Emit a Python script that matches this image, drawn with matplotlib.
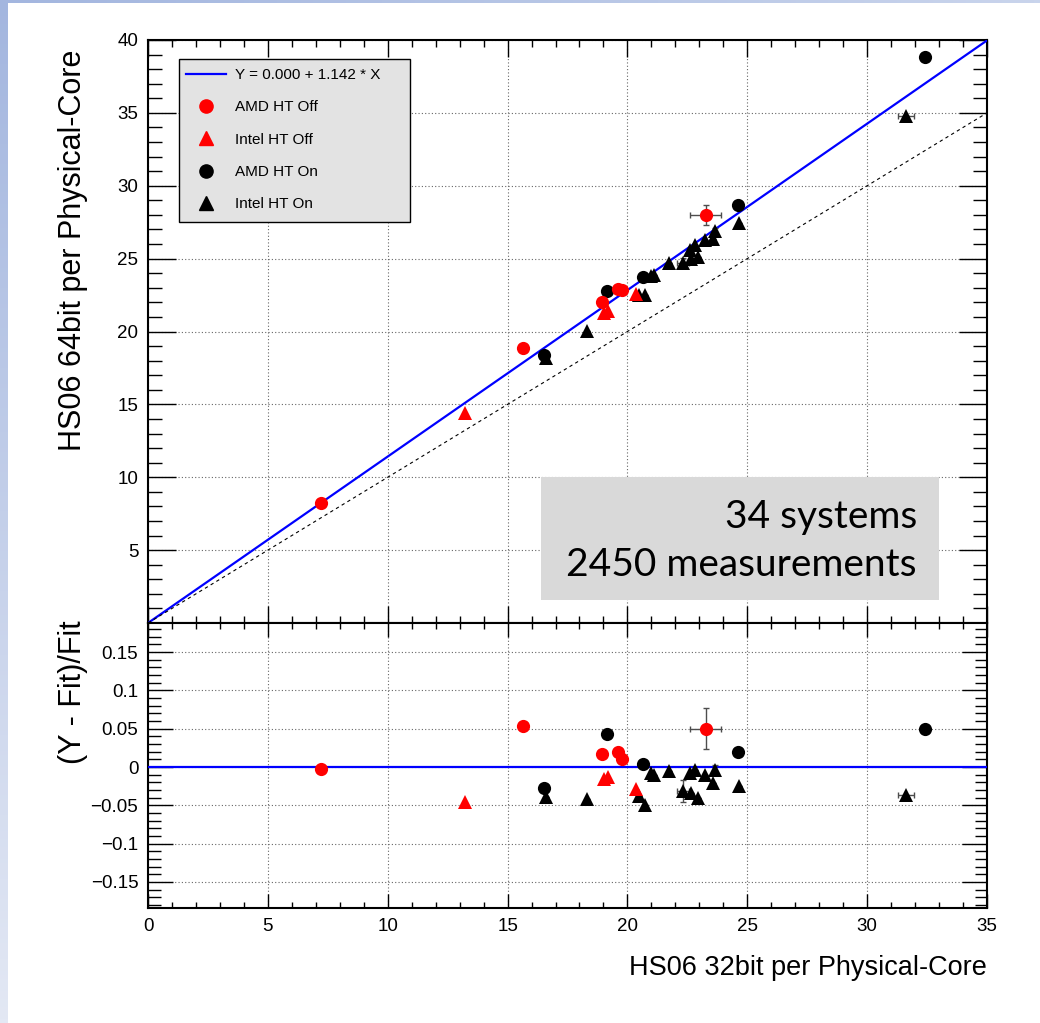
import numpy as np
import matplotlib
matplotlib.use("Agg")
import matplotlib.pyplot as plt
from matplotlib.patches import Rectangle
from matplotlib.lines import Line2D
from matplotlib.ticker import MultipleLocator

plt.rcParams['font.family'] = ['Liberation Sans', 'DejaVu Sans']

# fit: Y = 0.000 + 1.142 * X
fit_a = 0.000
fit_b = 1.142

# AMD HT Off (red circles)
amd_off_x = [7.22, 15.66, 18.93, 19.62, 19.79, 23.26]
amd_off_y = [8.25, 18.89, 22.00, 22.90, 22.85, 27.99]
amd_off_r = [-0.003, 0.0535, 0.0166, 0.020, 0.0104, 0.050]
amd_off_xerr = [0, 0, 0, 0, 0, 0.66]
amd_off_yerr = [0, 0, 0, 0, 0, 0.69]
amd_off_rerr = [0, 0, 0, 0, 0, 0.027]

# Intel HT Off (red triangles)
intel_off_x = [13.22, 19.04, 19.21, 20.34]
intel_off_y = [14.39, 21.30, 21.43, 22.58]
intel_off_r = [-0.045, -0.0157, -0.0135, -0.029]

# AMD HT On (black circles)
amd_on_x = [16.53, 19.13, 20.66, 24.63, 32.42]
amd_on_y = [18.39, 22.80, 23.72, 28.68, 38.82]
amd_on_r = [-0.027, 0.043, 0.004, 0.019, 0.049]

# Intel HT On (black triangles)
intel_on_x = [16.59, 18.30, 20.50, 20.73, 21.00, 21.12, 21.74, 22.30, 22.61,
              22.64, 22.82, 22.96, 23.24, 23.58, 23.65, 24.66, 31.61]
intel_on_y = [18.21, 20.02, 22.52, 22.49, 23.79, 23.87, 24.70, 24.68, 25.61,
              24.98, 25.96, 25.14, 26.26, 26.38, 26.90, 27.46, 34.76]
intel_on_r = [-0.039, -0.042, -0.038, -0.050, -0.008, -0.0105, -0.005, -0.031, -0.008,
              -0.034, -0.004, -0.041, -0.0105, -0.0205, -0.004, -0.025, -0.037]
intel_on_xerr = [0, 0, 0, 0, 0, 0, 0, 0.25, 0, 0, 0, 0, 0, 0, 0, 0, 0.33]
intel_on_yerr = [0, 0, 0, 0, 0, 0, 0, 0.35, 0, 0, 0, 0, 0, 0, 0.19, 0, 0]
intel_on_rerr = [0, 0, 0, 0, 0, 0, 0, 0.014, 0, 0, 0, 0, 0, 0, 0.007, 0, 0]

W, H = 1040, 1023
fig = plt.figure(figsize=(W / 100, H / 100), dpi=100)

# slide background strips
grad = np.linspace(0, 1, 256).reshape(-1, 1)
bg = fig.add_axes([0, 0, 8 / W, 1])
bg.imshow(grad, aspect='auto', cmap=matplotlib.colors.LinearSegmentedColormap.from_list(
    'bgl', ['#a3b6df', '#e3e8f4']), extent=[0, 1, 0, 1])
bg.axis('off')
bgt = fig.add_axes([0, 1 - 3 / H, 1, 3 / H])
bgt.imshow(grad.T, aspect='auto', cmap=matplotlib.colors.LinearSegmentedColormap.from_list(
    'bgt', ['#a3b6df', '#c9d4ec']), extent=[0, 1, 0, 1])
bgt.axis('off')

ax1 = fig.add_axes([148 / W, 1 - 623 / H, 839 / W, 583 / H])
ax2 = fig.add_axes([148 / W, 1 - 908 / H, 839 / W, 285 / H])

ms = 9.5
mk = dict(linestyle='none', markersize=ms, markeredgewidth=0, zorder=5)
emk = dict(ecolor='0.3', elinewidth=1, capsize=2.5, capthick=1, zorder=4)

# top panel
xs = np.array([0, 35])
ax1.plot(xs, fit_a + fit_b * xs, color='#0000ff', lw=1.6, zorder=3)
ax1.plot(xs, xs, color='black', lw=0.8, ls=(0, (3, 3)), zorder=3)
ax1.errorbar(amd_off_x, amd_off_y, xerr=amd_off_xerr, yerr=amd_off_yerr, fmt='none', **emk)
ax1.errorbar(intel_on_x, intel_on_y, xerr=intel_on_xerr, yerr=intel_on_yerr, fmt='none', **emk)
ax1.plot(intel_on_x, intel_on_y, marker='^', color='black', **mk)
ax1.plot(amd_on_x, amd_on_y, marker='o', color='black', **mk)
ax1.plot(intel_off_x, intel_off_y, marker='^', color='red', **mk)
ax1.plot(amd_off_x, amd_off_y, marker='o', color='red', **mk)
ax1.set_xlim(0, 35)
ax1.set_ylim(0, 40)
ax1.set_yticks([5, 10, 15, 20, 25, 30, 35, 40])
ax1.yaxis.set_minor_locator(MultipleLocator(1))
ax1.xaxis.set_major_locator(MultipleLocator(5))
ax1.xaxis.set_minor_locator(MultipleLocator(1))
ax1.tick_params(axis='x', labelbottom=False)
ax1.tick_params(axis='y', which='major', length=20)
ax1.tick_params(axis='y', which='minor', length=10)
ax1.tick_params(axis='x', which='major', length=12)
ax1.tick_params(axis='x', which='minor', length=5)

# bottom panel
ax2.axhline(0, color='#0000ff', lw=1.6, zorder=3)
ax2.errorbar(amd_off_x, amd_off_r, xerr=amd_off_xerr, yerr=amd_off_rerr, fmt='none', **emk)
ax2.errorbar(intel_on_x, intel_on_r, xerr=intel_on_xerr, yerr=intel_on_rerr, fmt='none', **emk)
ax2.plot(intel_on_x, intel_on_r, marker='^', color='black', **mk)
ax2.plot(amd_on_x, amd_on_r, marker='o', color='black', **mk)
ax2.plot(intel_off_x, intel_off_r, marker='^', color='red', **mk)
ax2.plot(amd_off_x, amd_off_r, marker='o', color='red', **mk)
ax2.set_xlim(0, 35)
ax2.set_ylim(-0.184, 0.188)
ax2.set_yticks([-0.15, -0.1, -0.05, 0, 0.05, 0.1, 0.15])
ax2.set_yticklabels(['\u22120.15', '\u22120.1', '\u22120.05', '0', '0.05', '0.1', '0.15'])
ax2.yaxis.set_minor_locator(MultipleLocator(0.01))
ax2.xaxis.set_major_locator(MultipleLocator(5))
ax2.xaxis.set_minor_locator(MultipleLocator(1))
ax2.tick_params(axis='y', which='major', length=18)
ax2.tick_params(axis='y', which='minor', length=9)
ax2.tick_params(axis='x', which='major', length=10)
ax2.tick_params(axis='x', which='minor', length=4)

for ax in (ax1, ax2):
    ax.grid(True, which='major', color='0.4', ls=(0, (1, 2)), lw=0.8)
    ax.set_axisbelow(True)
    ax.tick_params(which='both', direction='in', top=True, right=True,
                   labelsize=13.5, pad=7, width=1)
    for s in ax.spines.values():
        s.set_linewidth(1.5)

fig.text(73 / W, 1 - 50 / H, 'HS06 64bit per Physical-Core', rotation=90,
         ha='center', va='top', fontsize=22)
fig.text(73 / W, 1 - 620 / H, '(Y - Fit)/Fit', rotation=90,
         ha='center', va='top', fontsize=22)
fig.text(987 / W, 1 - 968 / H, 'HS06 32bit per Physical-Core',
         ha='right', va='center', fontsize=19.5)

# legend
fig.patches.append(Rectangle((179 / W, 1 - 222 / H), 231 / W, 163 / H,
                             transform=fig.transFigure, facecolor='#e3e3e3',
                             edgecolor='black', lw=1, zorder=6))
handles = [Line2D([], [], color='#0000ff', lw=1.6),
           Line2D([], [], marker='o', color='red', ls='none', markersize=ms),
           Line2D([], [], marker='^', color='red', ls='none', markersize=ms),
           Line2D([], [], marker='o', color='black', ls='none', markersize=ms),
           Line2D([], [], marker='^', color='black', ls='none', markersize=ms)]
labels = ['Y = 0.000 + 1.142 * X', 'AMD HT Off', 'Intel HT Off', 'AMD HT On', 'Intel HT On']
leg = fig.legend(handles, labels, loc='upper left', bbox_to_anchor=(186 / W, 1 - 68 / H),
                 frameon=False, fontsize=11, handlelength=2.6, handletextpad=0.6,
                 labelspacing=1.2, borderaxespad=0, borderpad=0)
leg.set_zorder(7)

# info box
fig.patches.append(Rectangle((541 / W, 1 - 600 / H), 398 / W, 123 / H,
                             transform=fig.transFigure, facecolor='#d9d9d9',
                             edgecolor='none', zorder=6))
fig.text(917 / W, 1 - 517 / H, '34 systems', ha='right', va='center',
         fontsize=28, family=['Lato', 'DejaVu Sans'], zorder=7)
fig.text(917 / W, 1 - 565 / H, '2450 measurements', ha='right', va='center',
         fontsize=28, family=['Lato', 'DejaVu Sans'], zorder=7)

fig.savefig('out.png', dpi=100)
